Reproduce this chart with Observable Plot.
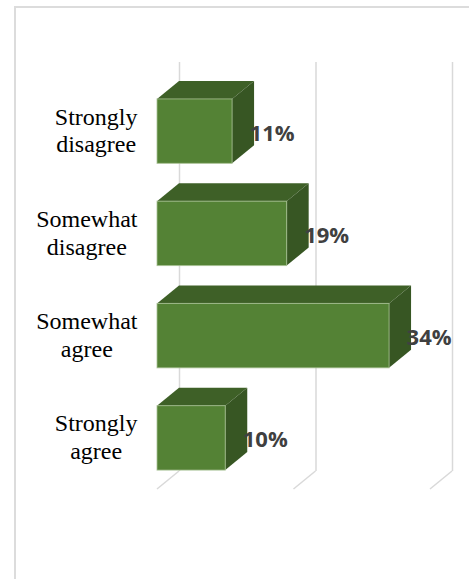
<!DOCTYPE html>
<html><head><meta charset="utf-8">
<script src="https://cdn.jsdelivr.net/npm/d3@7"></script>
<script src="https://cdn.jsdelivr.net/npm/@observablehq/plot@0.6"></script>
<style>
html,body{margin:0;padding:0;background:#fff;}
#wrap{position:relative;width:469px;height:579px;overflow:hidden;}
#frame{position:absolute;left:14px;top:6px;width:480px;height:620px;border-left:2px solid #dcdcdc;border-top:2px solid #dcdcdc;}
#chart{position:absolute;left:0;top:0;}
.catlabel text{font-family:"Liberation Serif","Times New Roman",serif !important;}
</style></head><body>
<div id="wrap"><div id="frame"></div><div id="chart"></div></div>
<script>
// ---- data ----
const categories = ["Strongly disagree", "Somewhat disagree", "Somewhat agree", "Strongly agree"];
const categoryLines = [["Strongly", "disagree"], ["Somewhat", "disagree"], ["Somewhat", "agree"], ["Strongly", "agree"]];
const values = [11, 19, 34, 10];
const valueLabels = ["11%", "19%", "34%", "10%"];
const xTicks = [0, 20, 40];

// ---- style ----
const DX = 22, DY = -18;
const FRONT = "#548235", TOP = "#3e6027", SIDE = "#375623";
const GRID = "#d9d9d9";
const LABEL_FONT = "Liberation Serif";
const LABEL_SIZE = 24;
const LABEL_RIGHT = 137;

const data = categories.map((c, i) => ({cat: c, value: values[i], label: valueLabels[i], text: categoryLines[i].join("\n")}));

const canvas = document.createElement("canvas").getContext("2d");
canvas.font = `${LABEL_SIZE}px "Liberation Serif"`;
const blockWidth = lines => Math.max(...lines.map(l => canvas.measureText(l).width));

function floorDiagonals(index, scales, vals, dim) {
  const x = scales.x;
  const yb = dim.height - dim.marginBottom;
  const g = d3.create("svg:g").attr("stroke", GRID).attr("stroke-width", 1.5).attr("fill", "none");
  for (const t of xTicks) {
    g.append("path").attr("d", `M${x(t)},${yb}L${x(t) + DX},${yb + DY}`);
  }
  return g.node();
}

function prismFaces(index, scales) {
  const x = scales.x, y = scales.y;
  const bw = typeof y.bandwidth === "function" ? y.bandwidth() : y.bandwidth;
  const g = d3.create("svg:g");
  for (const d of data) {
    const x0 = x(0), x1 = x(d.value), y0 = y(d.cat), y1 = y0 + bw;
    g.append("path").attr("fill", TOP)
      .attr("d", `M${x0},${y0}L${x1},${y0}L${x1 + DX},${y0 + DY}L${x0 + DX},${y0 + DY}Z`);
    g.append("path").attr("fill", SIDE)
      .attr("d", `M${x1},${y0}L${x1 + DX},${y0 + DY}L${x1 + DX},${y1 + DY}L${x1},${y1}Z`);
  }
  return g.node();
}

const labelMarks = data.map((d, i) => Plot.text([d], {
  y: "cat", text: "text", frameAnchor: "left",
  dx: LABEL_RIGHT - 157 - blockWidth(categoryLines[i]) / 2, dy: -2,
  textAnchor: "middle", lineAnchor: "middle", lineHeight: 1.15,
  fontFamily: LABEL_FONT, fontSize: LABEL_SIZE, fill: "#000", className: "catlabel"
}));

const chart = Plot.plot({
  width: 469, height: 579,
  marginTop: 80, marginBottom: 90, marginLeft: 157, marginRight: 39,
  x: {domain: [0, 40], axis: null},
  y: {domain: categories, axis: null, paddingInner: 0.37, paddingOuter: 0.185, round: false},
  style: {background: "transparent", overflow: "visible"},
  marks: [
    Plot.ruleX(xTicks, {stroke: GRID, strokeWidth: 1.5, dx: DX, dy: DY}),
    floorDiagonals,
    prismFaces,
    Plot.barX(data, {x: "value", y: "cat", fill: FRONT, stroke: "#a7c093", strokeWidth: 1, strokeOpacity: 0.8}),
    Plot.text(data, {x: "value", y: "cat", text: "label", textAnchor: "start", dx: 17, dy: 2,
      fontFamily: "Open Sans", fontWeight: "bold", fontSize: 22, fill: "#404040"}),
    ...labelMarks
  ]
});
d3.select(chart).selectAll("text").filter(function() {
  return this.getAttribute("font-family") === LABEL_FONT || (this.parentNode && this.parentNode.getAttribute && this.parentNode.getAttribute("font-family") === LABEL_FONT);
}).style("font-family", '"Liberation Serif", "Times New Roman", serif');
document.getElementById("chart").appendChild(chart);
</script>
</body></html>
